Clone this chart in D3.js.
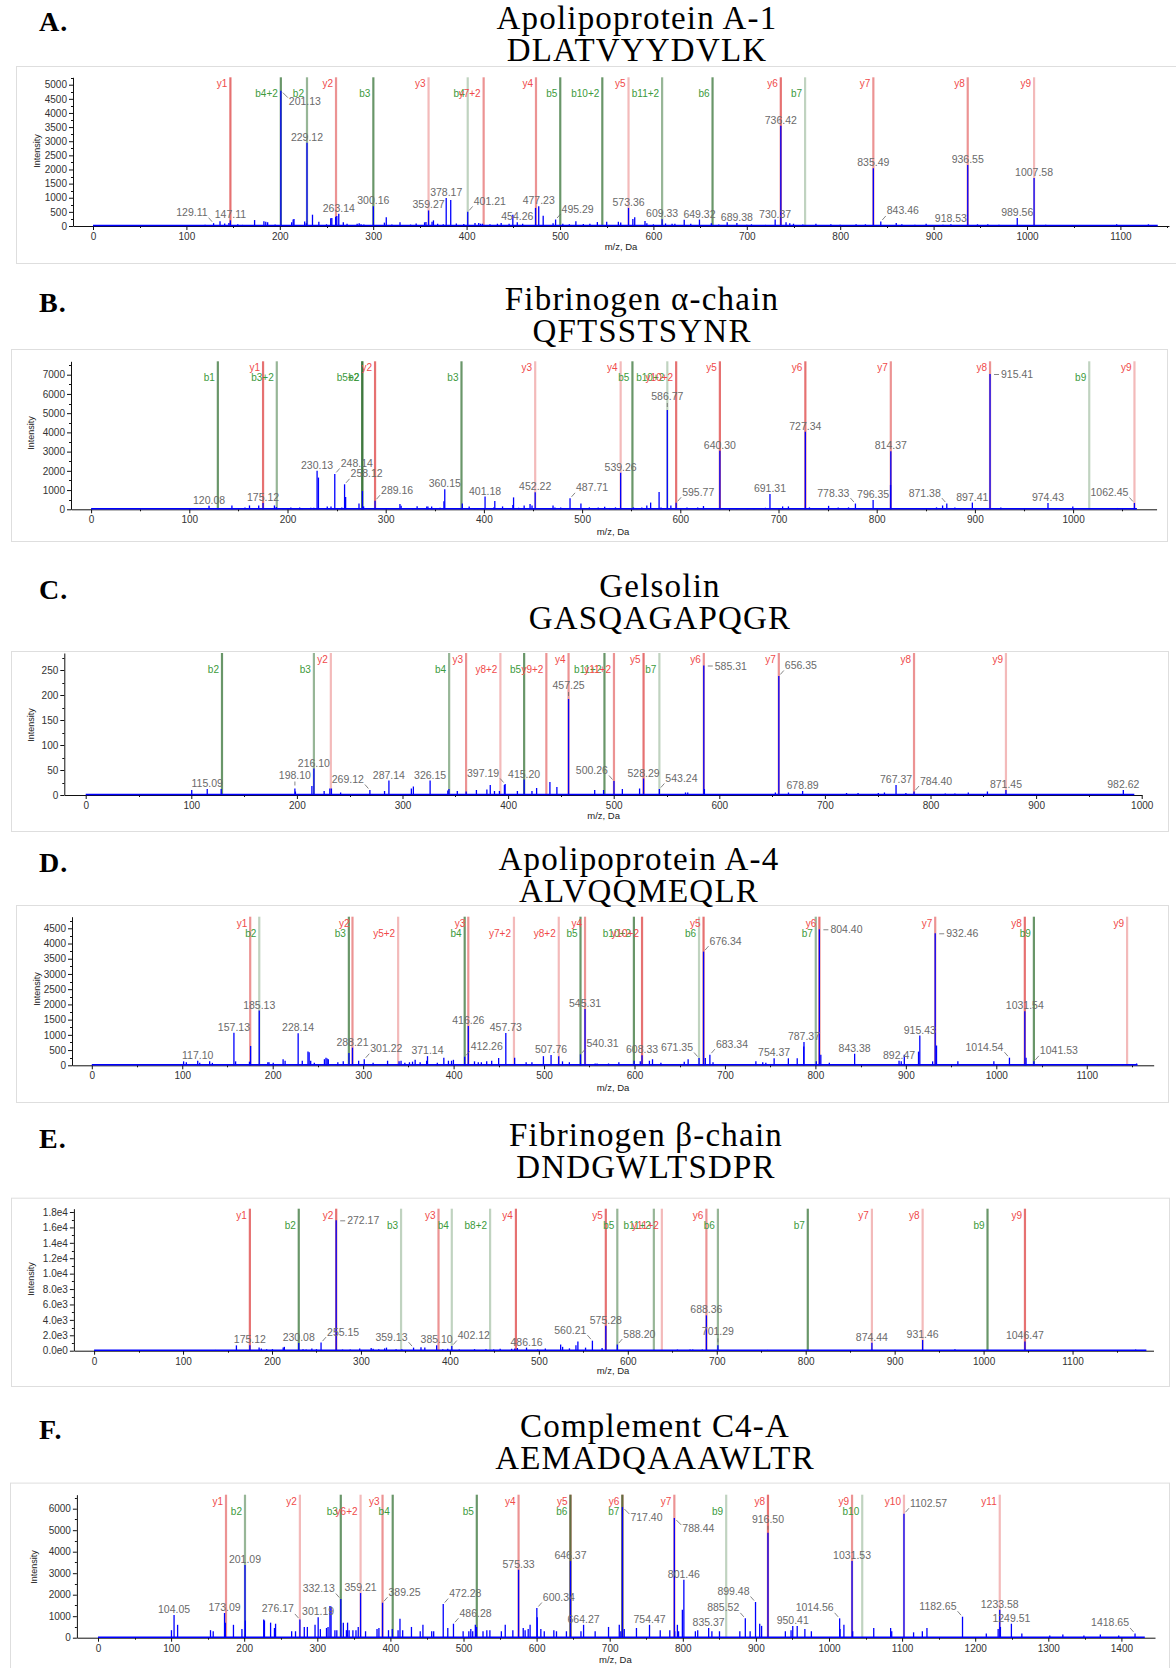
<!DOCTYPE html>
<html>
<head>
<meta charset="utf-8">
<title>MS/MS spectra</title>
<script src="https://cdn.jsdelivr.net/npm/d3@7/dist/d3.min.js"></script>
<style>
  body { margin: 0; background: #fff; }
  svg text { font-family: "Liberation Sans", Arial, sans-serif; }
  svg text.serif { font-family: "Liberation Serif", "Times New Roman", serif; }
</style>
</head>
<body>
<svg id="chart" width="1176" height="1668"></svg>
<script>
// ---- panel A : Apolipoprotein A-1 ----
var peaksA = [[120,40],[136,170],[141,90],[145.5,110],[155,60],[160,40],[173,210],[183,170],[185,150],[187,130],[195,50],
  [212.7,130],[214.3,230],[215.2,250],[226.6,160],[228.3,100],[235,400],[241.8,150],[250,60],[254.5,270],[255.7,280],[259.8,330],
  [261,350],[268,130],[272,80],[282.8,80],[285,100],[287,60],[290,50],[312,120],[314,310],[320,50],[328.7,130],[340,50],[346,90],
  [355,130],[356.5,140],[363,150],[364.5,200],[369,80],[375,60],[383,920],[389,90],[397,70],[409,110],[413,110],[415,80],[417,80],
  [425,60],[433,80],[437,110],[445.5,80],[449.5,400],[460,80],[473.8,640],[482,360],[492.6,100],[503,80],[510,60],[517,170],
  [525,70],[532,80],[540,140],[550,150],[562.5,150],[565,120],[578,250],[580,310],[591,180],[593,100],[600,60],[613,90],[620,80],
  [623,80],[633,220],[640,80],[662,100],[670,50],[679,130],[700,40],[705,60],[720,40],[742,130],[746,100],[750,80],[760,50],
  [774,80],[790,60],[800,40],[817,60],[827,60],[860,110],[866,60],[880,40],[892,80],[910,40],[947,60],[958,60],[970,40],
  [1020,40],[1050,30],[1070,30],[1096,60],[1130,60]];
var labelsA = [[129.11,100,"ul"],[147.11,200,"c"],[201.13,4790,"rd"],[229.12,2950,"c"],[263.14,430,"c"],[300.16,700,"c"],
  [359.27,550,"c"],[378.17,990,"c"],[401.21,500,"ur"],[454.26,130,"c"],[477.23,700,"c"],[495.29,230,"ur"],[573.36,640,"c"],
  [609.33,240,"c"],[649.32,230,"c"],[689.38,110,"c"],[730.37,230,"c"],[736.42,3550,"c"],[835.49,2040,"c"],[843.46,160,"ur"],
  [918.53,60,"c"],[936.55,2160,"c"],[989.56,280,"c"],[1007.58,1700,"c"]];
var ionsA = [["y1",147.11,3],["b4+2",201.11,3],["b2",229.12,2],["y2",260.20,2],["b3",300.16,3],["y3",359.27,1],["b4",401.20,1],
  ["y7+2",418.25,2],["y4",474.29,2],["b5",500.27,3],["b10+2",545.29,3],["y5",573.36,1],["b11+2",609.34,2],["b6",663.33,3],
  ["y6",736.42,3],["b7",762.40,1],["y7",835.49,2],["y8",936.54,2],["y9",1007.58,1]];
var xTicksA = [0,100,200,300,400,500,600,700,800,900,1000,1100];
var yTicksA = [0,500,1000,1500,2000,2500,3000,3500,4000,4500,5000];

// ---- panel B : Fibrinogen alpha-chain ----
var peaksB = [[100.5,60],[112,60],[129.4,60],[143.4,200],[156.7,90],[161.3,200],[170.7,200],[186.7,200],[188.6,120],[195.6,70],
  [203.4,100],[212.4,100],[215,70],[223.7,80],[226.8,80],[231.5,1650],[240.5,150],[244.3,150],[255.3,100],[259.2,640],[272.8,300],
  [276.3,950],[277.5,150],[314.5,270],[315.7,180],[327.4,60],[332,160],[341.8,150],[343,150],[346.8,150],[355.4,80],[359.3,420],
  [378,300],[385,150],[390.5,60],[393.6,60],[410,100],[411.1,430],[419,150],[429.5,220],[430.2,620],[435.3,80],[441,200],[447,270],
  [449,200],[470.4,200],[472.3,100],[478.2,100],[498.8,300],[507.4,100],[516.4,100],[523,130],[528,70],[534,100],[552.3,100],
  [556,70],[560.8,100],[565.9,200],[569.8,350],[578.4,900],[580.3,100],[590.4,200],[606.8,100],[617.7,100],[623.6,170],[649.7,70],
  [657.5,70],[668.4,60],[675,60],[686.7,80],[704.2,150],[710.1,150],[731.5,100],[751,180],[760.8,100],[771.3,100],[814.1,1265],
  [854.3,70],[860.9,100],[867.1,200],[879.6,100],[885.5,60],[926.4,100],[982.1,60],[999.7,150],[1045.2,70]];
var labelsB = [[120.08,180,"c"],[175.12,330,"c"],[230.13,2010,"c"],[248.14,1840,"ur"],[258.12,1300,"ur"],[289.16,450,"ur"],
  [360.15,1040,"c"],[401.18,660,"c"],[452.22,884,"c"],[487.71,570,"ur"],[539.26,1906,"c"],[586.77,5164,"cv"],[595.77,340,"ur"],
  [640.30,3050,"c"],[691.31,800,"c"],[727.34,4038,"c"],[778.33,300,"ul"],[796.35,485,"c"],[814.37,3016,"c"],[871.38,300,"ul"],
  [897.41,350,"c"],[915.41,7036,"h"],[974.43,330,"c"],[1062.45,330,"ul"]];
var ionsB = [["b1",129.07,3],["y1",175.12,3],["b3+2",189.10,2],["b5+2",276.13,3],["b2",276.13,3],["y2",289.16,3],["b3",377.18,3],
  ["y3",452.22,1],["y4",539.26,1],["b5",551.25,3],["b10+2",586.77,1],["y10+2",595.78,3],["y5",640.30,3],["y6",727.34,3],
  ["y7",814.37,2],["y8",915.42,2],["b9",1016.43,1],["y9",1062.49,1]];
var xTicksB = [0,100,200,300,400,500,600,700,800,900,1000];
var yTicksB = [0,1000,2000,3000,4000,5000,6000,7000];

// ---- panel C : Gelsolin ----
var peaksC = [[100.4,10],[128.3,12],[198.6,7],[214.2,18],[225.8,8],[231.2,13],[232.7,13],[241.4,5],[283,8],[308.4,13],[310.3,17],
  [342.9,9],[344,12],[351.9,8],[360.3,7],[370,10],[379.9,11],[383.1,20],[387.1,8],[391.8,8],[396.5,20],[408.8,8],[422.6,8],
  [427,14],[439.6,26],[446.2,16],[482,10],[490.4,10],[508.2,12],[524.5,13],[568,5],[570.1,5],[585.9,12],[653.1,5],[665.5,5],
  [720.5,4],[731.4,4],[750.6,4],[756.4,5],[776.7,4],[814,3],[823.1,3],[835.8,5],[853.9,7]];
var labelsC = [[115.09,12,"c"],[198.10,13,"cv"],[216.10,53,"c"],[269.12,10,"ul"],[287.14,29,"c"],[326.15,29,"c"],[397.19,22,"ul"],
  [415.20,31,"c"],[457.25,192,"cv"],[500.26,28,"ul"],[528.29,33,"c"],[543.24,12,"ur"],[585.31,259,"h"],[656.35,238,"ur"],
  [678.89,8,"c"],[767.37,20,"c"],[784.40,7,"ur"],[871.45,10,"c"],[982.62,10,"c"]];
var ionsC = [["b2",129.07,3],["b3",216.10,2],["y2",232.14,1],["b4",344.16,2],["y3",360.20,2],["y8+2",392.70,1],["b5",415.19,3],
  ["y9+2",436.22,2],["y4",457.25,2],["b11+2",491.24,3],["y11+2",500.25,2],["y5",528.29,3],["b7",543.25,1],["y6",585.31,2],
  ["y7",656.35,2],["y8",784.40,2],["y9",871.44,1]];
var xTicksC = [0,100,200,300,400,500,600,700,800,900,1000];
var yTicksC = [0,50,100,150,200,250];

// ---- panel D : Apolipoprotein A-4 ----
var peaksD = [[101.5,130],[104.5,100],[119.3,80],[130.3,130],[133.3,80],[159,130],[174.3,120],[175.6,635],[194.6,100],[195.9,100],
  [200.6,80],[211.5,200],[213.7,150],[232.7,150],[239,450],[240.3,430],[242,150],[246,80],[257.2,200],[258.9,250],[260.2,220],
  [261.5,200],[272,100],[278,130],[284.3,400],[295,150],[311,80],[327,150],[339.7,130],[341.9,150],[346.1,80],[351.2,100],
  [354.6,120],[357.5,180],[363,100],[370.2,150],[382,80],[389.2,250],[394.3,150],[397.7,150],[399.8,180],[423.1,130],[427.3,100],
  [430.7,100],[436.6,130],[442.1,150],[449.8,240],[467.5,250],[480.2,100],[486.6,100],[499.3,300],[516.2,300],[520.4,130],
  [528,100],[556.5,60],[558.6,60],[571.3,60],[582.7,100],[599.6,150],[606.4,130],[616.5,150],[619.9,200],[629.2,80],[655,120],
  [659.3,200],[678.3,240],[686.8,100],[734.2,130],[741.8,100],[745.2,80],[770.1,230],[779.9,230],[787.1,620],[801,130],[806,350],
  [815.4,80],[894.9,130],[898.3,350],[914,450],[929.6,130],[933.9,650],[957.5,130],[997.3,130],[1032.9,250],[1112.8,30],
  [1127.6,30],[1139.5,40],[1155.1,60]];
var labelsD = [[117.10,150,"c"],[157.13,1073,"c"],[185.13,1796,"c"],[228.14,1051,"c"],[288.21,580,"c"],[301.22,200,"ur"],
  [371.14,300,"c"],[412.26,280,"ur"],[416.26,1292,"c"],[457.73,1062,"c"],[507.76,340,"c"],[540.31,360,"ur"],[545.31,1850,"c"],
  [608.33,330,"c"],[671.35,240,"ul"],[676.34,3734,"ur"],[683.34,350,"ur"],[754.37,230,"c"],[787.37,766,"c"],[804.40,4468,"h"],
  [843.38,380,"c"],[892.47,150,"c"],[915.43,975,"c"],[932.46,4336,"h"],[1014.54,250,"ul"],[1031.54,1774,"c"],[1041.53,130,"ur"]];
var ionsD = [["y1",175.12,2],["b2",185.13,1],["b3",284.20,3],["y2",288.20,2],["y5+2",338.68,1],["b4",412.26,3],["y3",416.26,2],
  ["y7+2",466.74,1],["y8+2",516.27,1],["b5",540.31,3],["y4",545.31,2],["b10+2",599.32,3],["y10+2",608.33,3],["b6",671.35,1],
  ["y5",676.35,3],["b7",800.40,2],["y6",804.40,3],["y7",932.46,2],["y8",1031.53,3],["b9",1041.54,3],["y9",1144.62,1]];
var xTicksD = [0,100,200,300,400,500,600,700,800,900,1000,1100];
var yTicksD = [0,500,1000,1500,2000,2500,3000,3500,4000,4500];

// ---- panel E : Fibrinogen beta-chain ----
var peaksE = [[136.4,100],[160,690],[185.5,400],[188,300],[194,200],[200.5,200],[212.6,400],[213.9,500],[234.9,200],[238.4,150],
  [244.8,300],[250,200],[263.3,100],[279.3,150],[287.9,150],[298.6,300],[311.5,350],[313.7,250],[320,200],[326.6,300],[328.7,400],
  [339.5,200],[346,200],[367.5,450],[371.8,400],[392,200],[397.6,250],[410.5,150],[427.7,200],[440.6,200],[449.2,150],[456.5,250],
  [469.4,250],[472.9,300],[475.9,350],[498.7,150],[507.3,300],[524.5,800],[526.7,500],[534.4,300],[541.7,700],[543.9,1200],
  [552.5,400],[571.1,350],[610.6,100],[629.2,100],[655.8,150],[666.6,100],[670,150],[673,150],[683.8,150],[757,100],[767.7,100],
  [784.9,80],[795.7,80],[843,80],[967.8,200],[987.1,80],[1170.9,150]];
var labelsE = [[175.12,700,"c"],[230.08,1000,"c"],[255.15,1050,"ur"],[272.17,16920,"h"],[359.13,400,"ul"],[385.10,700,"c"],
  [402.12,600,"ur"],[486.16,400,"c"],[560.21,1300,"ul"],[575.28,3245,"c"],[588.20,800,"ur"],[688.36,4587,"c"],[701.29,700,"cv"],
  [874.44,1040,"c"],[931.46,1385,"c"],[1046.47,1210,"c"]];
var ionsE = [["y1",175.12,3],["b2",230.08,3],["y2",272.17,3],["b3",345.10,1],["y3",387.20,2],["b4",402.13,1],["b8+2",445.19,1],
  ["y4",474.23,3],["y5",575.28,3],["b5",588.20,2],["b11+2",629.28,2],["y11+2",638.28,1],["y6",688.36,2],["b6",701.29,2],
  ["b7",802.34,3],["y7",874.44,1],["y8",931.46,1],["b9",1004.40,3],["y9",1046.49,3]];
var xTicksE = [0,100,200,300,400,500,600,700,800,900,1000,1100];
var yTicksE = [0,2000,4000,6000,8000,10000,12000,14000,16000,18000];
var yLabelsE = ["0.0e0","2.0e3","4.0e3","6.0e3","8.0e3","1.0e4","1.2e4","1.4e4","1.6e4","1.8e4"];

// ---- panel F : Complement C4-A ----
var peaksF = [[100.5,350],[108.9,600],[153.9,350],[157.6,300],[174.2,700],[185.3,600],[196.9,400],[201.6,800],[226.7,850],
  [227.7,800],[236.1,700],[241.4,450],[242.9,650],[264.9,300],[270.2,300],[282.2,500],[286.4,500],[296.9,600],[304.2,400],
  [312.6,450],[314.7,500],[317.3,1470],[318.8,1450],[324.1,350],[326.7,350],[335.6,700],[339.8,350],[341.4,700],[343.5,350],
  [348.7,350],[352.9,350],[356,500],[366,300],[381.7,400],[384.3,450],[397.4,350],[402.6,400],[410.5,350],[413.1,880],[416.8,350],
  [428.8,500],[440.8,300],[444.5,600],[456.5,300],[459.2,300],[478.5,450],[499.5,300],[507.3,300],[510,400],[512.6,300],
  [516.2,600],[517.8,500],[526.7,300],[531.9,350],[536.1,350],[551.8,300],[557.1,600],[567.5,350],[581.7,450],[584.3,350],
  [588.5,400],[591.1,600],[600.9,950],[605.8,400],[610.5,300],[623.6,350],[627.2,300],[640.8,300],[660.7,300],[680.1,300],
  [698.4,500],[713.1,600],[715.2,300],[719.9,400],[736.6,450],[769.1,350],[782.2,350],[789,300],[792.6,600],[794.2,300],
  [799.4,1300],[817.2,300],[820.4,350],[839.8,300],[850.2,300],[878,300],[892.1,300],[905.2,650],[907.8,550],[940.3,300],
  [948.1,350],[956.5,550],[967,400],[975.9,300],[1015.1,400],[1020.4,600],[1032.4,300],[1061.2,450],[1084.3,450],[1085.8,300],
  [1115.7,250],[1127.7,300],[1134,450],[1215.2,200],[1231.4,400],[1234.5,500],[1263.8,200],[1302,100],[1319.9,150],
  [1348.7,100],[1371.2,150],[1396.3,100]];
var labelsF = [[104.05,1054,"c"],[173.09,1150,"c"],[201.09,3380,"c"],[276.17,850,"ul"],[301.19,950,"c"],[332.13,1800,"ul"],
  [359.21,2077,"c"],[389.25,1628,"ur"],[472.28,1566,"ur"],[486.28,650,"ur"],[575.33,3162,"c"],[600.34,1380,"ur"],
  [646.37,3565,"c"],[664.27,600,"c"],[717.40,6076,"rd"],[754.47,600,"c"],[788.44,5565,"rd"],[801.46,2697,"c"],[835.37,450,"c"],
  [885.52,900,"ul"],[899.48,1660,"ul"],[916.50,4880,"cv"],[950.41,550,"c"],[1014.56,900,"ul"],[1031.53,3565,"c"],
  [1102.57,5766,"ur"],[1182.65,977,"ul"],[1233.58,1300,"c"],[1249.51,650,"c"],[1418.65,200,"ul"]];
var ionsF = [["y1",175.12,2],["b2",201.09,2],["y2",276.17,1],["b3",332.13,3],["y6+2",359.21,1],["y3",389.25,2],["b4",403.16,3],
  ["b5",518.19,3],["y4",575.33,2],["y5",646.37,3],["b6",646.25,3],["y6",717.40,3],["b7",717.29,3],["y7",788.44,2],["b9",859.36,1],
  ["y8",916.50,3],["y9",1031.53,2],["b10",1045.44,1],["y10",1102.56,1],["y11",1233.60,1]];
var xTicksF = [0,100,200,300,400,500,600,700,800,900,1000,1100,1200,1300,1400];
var yTicksF = [0,1000,2000,3000,4000,5000,6000];

var proteins = ["Apolipoprotein A-1","Fibrinogen \u03b1-chain","Gelsolin","Apolipoprotein A-4","Fibrinogen \u03b2-chain","Complement C4-A"];
var sequences = ["DLATVYYDVLK","QFTSSTSYNR","GASQAGAPQGR","ALVQQMEQLR","DNDGWLTSDPR","AEMADQAAAWLTR"];
var scanEnd = [1140, 1065, 993, 1156, 1183, 1432];

var panels = [
  {key:"A", peaks:peaksA, labels:labelsA, ions:ionsA, xTicks:xTicksA, yTicks:yTicksA},
  {key:"B", peaks:peaksB, labels:labelsB, ions:ionsB, xTicks:xTicksB, yTicks:yTicksB},
  {key:"C", peaks:peaksC, labels:labelsC, ions:ionsC, xTicks:xTicksC, yTicks:yTicksC},
  {key:"D", peaks:peaksD, labels:labelsD, ions:ionsD, xTicks:xTicksD, yTicks:yTicksD},
  {key:"E", peaks:peaksE, labels:labelsE, ions:ionsE, xTicks:xTicksE, yTicks:yTicksE, yLabels:yLabelsE},
  {key:"F", peaks:peaksF, labels:labelsF, ions:ionsF, xTicks:xTicksF, yTicks:yTicksF}
];

// page geometry of each panel (pixels)
var layout = {
  A: {box:[16,66,1176,263], axisX:73, x0:93, kx:0.934, xHi:1152, y0:226, ky:141.3/5000, axisTop:77.3, tx:637, t1:29, t2:61, mz:[621,247], inten:[37,151]},
  B: {box:[11,349,1167,541], axisX:71, x0:91.1, kx:0.982, xHi:1085, y0:509.3, ky:134.6/7000, axisTop:361.3, tx:642, t1:310, t2:342, mz:[613,531.3], inten:[30.6,433]},
  C: {box:[11,651,1168,831], axisX:64.3, x0:85.7, kx:1.056, xHi:1000, y0:795, ky:125/250, axisTop:653, tx:660, t1:597, t2:629, mz:[603.6,815.7], inten:[30.6,725]},
  D: {box:[16,905,1168,1102], axisX:72, x0:91.8, kx:0.9045, xHi:1174, y0:1065.3, ky:137/4500, axisTop:916.7, tx:639, t1:870, t2:902, mz:[613,1087.3], inten:[36.4,989]},
  E: {box:[11,1197.7,1169,1386], axisX:73.9, x0:94.1, kx:0.8895, xHi:1191, y0:1350.7, ky:138.7/18000, axisTop:1208.7, tx:646, t1:1145.5, t2:1177.5, mz:[613,1371], inten:[30.6,1279]},
  F: {box:[10,1482.6,1169,1700], axisX:76.9, x0:98, kx:0.731, xHi:1446, y0:1637.7, ky:129/6000, axisTop:1494.7, tx:655, t1:1437, t2:1469, mz:[615.4,1659.3], inten:[33.7,1567]}
};

var yAlpha = {1:0.35, 2:0.55, 3:0.72};
var bAlpha = {1:0.3, 2:0.5, 3:0.72};
var svg = d3.select("#chart");
svg.append("rect").attr("width", 1176).attr("height", 1668).attr("fill", "#fff");

panels.forEach(function (p, i) { drawPanel(p, layout[p.key], i); });

function drawPanel(p, L, i) {
  var g = svg.append("g");
  g.append("rect")
    .attr("x", L.box[0] + 0.5).attr("y", L.box[1] + 0.5)
    .attr("width", L.box[2] - L.box[0]).attr("height", L.box[3] - L.box[1])
    .attr("fill", "none").attr("stroke", "#dedede");

  var xLo = (L.axisX - L.x0) / L.kx;
  var x = d3.scaleLinear().domain([xLo, L.xHi]).range([L.axisX, L.x0 + L.xHi * L.kx]);
  var yTop = (L.y0 - L.axisTop) / L.ky;
  var y = d3.scaleLinear().domain([0, yTop]).range([L.y0, L.axisTop]);
  var isY = function (d) { return d[0][0] === "y"; };

  // fragment ion markers
  g.selectAll(".ion").data(p.ions).enter().append("line")
    .attr("x1", function (d) { return x(d[1]); }).attr("x2", function (d) { return x(d[1]); })
    .attr("y1", y(yTop)).attr("y2", y(0))
    .attr("stroke", function (d) { return isY(d) ? "#dd3a3a" : "#2f6e2f"; })
    .attr("stroke-opacity", function (d) { return (isY(d) ? yAlpha : bAlpha)[d[2]]; })
    .attr("stroke-width", 2.2);

  // axes
  var xAxis = d3.axisBottom(x).tickValues(p.xTicks).tickSize(4).tickSizeOuter(0).tickPadding(3).tickFormat(d3.format("d"));
  var gx = g.append("g").attr("transform", "translate(0," + L.y0 + ")").call(xAxis);
  var yAxis = d3.axisLeft(y).tickValues(p.yTicks).tickSize(4).tickSizeOuter(0).tickPadding(2)
    .tickFormat(function (d, k) { return p.yLabels ? p.yLabels[k] : d; });
  var gy = g.append("g").attr("transform", "translate(" + L.axisX + ",0)").call(yAxis);
  [gx, gy].forEach(function (a) {
    a.attr("font-family", null).attr("font-size", null).attr("color", "#111");
    a.selectAll("text").attr("font-size", 10).attr("fill", "#333");
  });
  var xStep = p.xTicks[1] - p.xTicks[0];
  g.selectAll(".xm").data(d3.range(xStep / 2, L.xHi, xStep)).enter().append("line")
    .attr("x1", function (d) { return Math.round(x(d)) + 0.5; }).attr("x2", function (d) { return Math.round(x(d)) + 0.5; })
    .attr("y1", L.y0).attr("y2", L.y0 + 2).attr("stroke", "#111");
  var yStep = p.yTicks[1] - p.yTicks[0];
  g.selectAll(".ym").data(d3.range(yStep / 2, yTop, yStep)).enter().append("line")
    .attr("x1", L.axisX).attr("x2", L.axisX - 2)
    .attr("y1", function (d) { return Math.round(y(d)) + 0.5; }).attr("y2", function (d) { return Math.round(y(d)) + 0.5; })
    .attr("stroke", "#111");

  // spectrum
  g.append("line").attr("x1", x(0)).attr("x2", x(scanEnd[i])).attr("y1", L.y0 - 0.5).attr("y2", L.y0 - 0.5)
    .attr("stroke", "#0000ff").attr("stroke-width", 1.5);
  var all = p.peaks.concat(p.labels.map(function (d) { return [d[0], d[1]]; }));
  g.selectAll(".pk").data(all).enter().append("line")
    .attr("x1", function (d) { return x(d[0]); }).attr("x2", function (d) { return x(d[0]); })
    .attr("y1", y(0)).attr("y2", function (d) { return y(d[1]); })
    .attr("stroke", "#0000ff").attr("stroke-width", 1.3);

  // peak labels
  p.labels.forEach(function (d) {
    var px = x(d[0]), T = y(d[1]), t = d[0].toFixed(2);
    var tx = px, ty = T - 2, anchor = "middle", lead = null;
    if (d[2] === "cv") { ty = T - 10; lead = [px, T - 3, px, T - 7]; }
    if (d[2] === "ur") { tx = px + 6; ty = T - 7; anchor = "start"; lead = [px + 1.5, T - 1.5, px + 5, T - 5.5]; }
    if (d[2] === "ul") { tx = px - 6; ty = T - 7; anchor = "end"; lead = [px - 1.5, T - 1.5, px - 5, T - 5.5]; }
    if (d[2] === "rd") { tx = px + 8; ty = T + 14; anchor = "start"; lead = [px + 2, T + 2, px + 7, T + 7]; }
    if (d[2] === "h") { tx = px + 11; ty = T + 4; anchor = "start"; lead = [px + 4, T + 0.5, px + 9, T + 0.5]; }
    if (lead) g.append("line").attr("x1", lead[0]).attr("y1", lead[1]).attr("x2", lead[2]).attr("y2", lead[3])
      .attr("stroke", "#666").attr("stroke-width", 0.8);
    g.append("text").attr("x", tx).attr("y", ty).attr("text-anchor", anchor)
      .attr("font-size", 10.5).attr("fill", "#6a6a6a").text(t);
  });

  // ion names
  g.selectAll(".ionl").data(p.ions).enter().append("text")
    .attr("x", function (d) { return x(d[1]) - 3; })
    .attr("y", function (d) { return L.axisTop + (/^y\d+$/.test(d[0]) ? 10 : 20); })
    .attr("text-anchor", "end").attr("font-size", 10)
    .attr("fill", function (d) { return isY(d) ? "#f04a4a" : "#3c9a3c"; })
    .text(function (d) { return d[0]; });

  // axis titles
  g.append("text").attr("x", L.mz[0]).attr("y", L.mz[1] + 3.3).attr("text-anchor", "middle")
    .attr("font-size", 9.5).attr("fill", "#222").text("m/z, Da");
  g.append("text").attr("transform", "translate(" + L.inten[0] + "," + L.inten[1] + ") rotate(-90)")
    .attr("dy", "0.35em").attr("text-anchor", "middle").attr("font-size", 9).attr("fill", "#222").text("Intensity");

  // headings
  g.append("text").attr("class", "serif").attr("x", 39).attr("y", L.t1 + 2)
    .attr("font-weight", "bold").attr("font-size", 28).attr("letter-spacing", 1).attr("fill", "#000").text(p.key + ".");
  [proteins[i], sequences[i]].forEach(function (s, k) {
    g.append("text").attr("class", "serif").attr("x", L.tx).attr("y", k ? L.t2 : L.t1).attr("text-anchor", "middle")
      .attr("font-size", 33).attr("letter-spacing", 1.2).attr("fill", "#000").text(s);
  });
}
</script>
</body>
</html>
